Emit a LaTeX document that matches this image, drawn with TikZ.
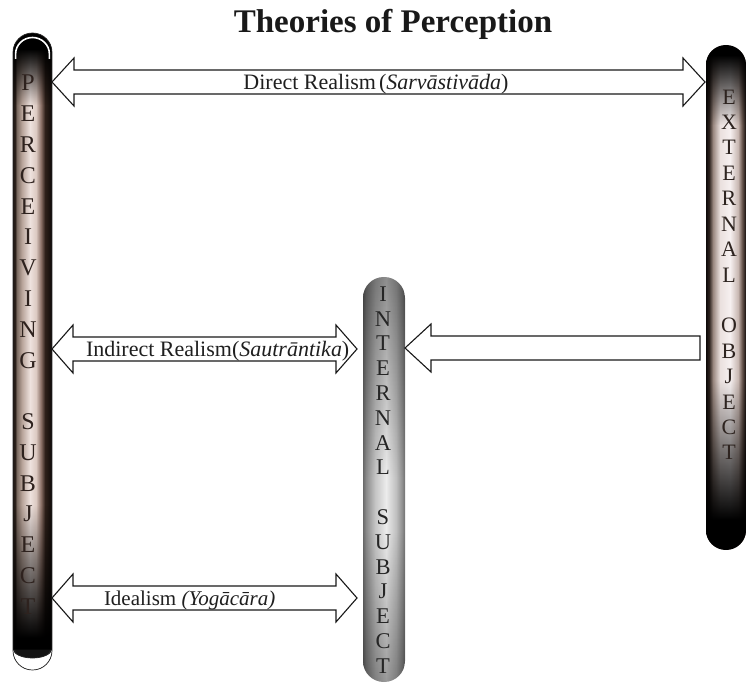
\documentclass[tikz,border=0pt]{standalone}
\usepackage{fontspec}
\setmainfont{Liberation Serif}
\usetikzlibrary{calc,fadings}

% left bar colours
\definecolor{lbA}{HTML}{1E1612}
\definecolor{lbB}{HTML}{2A201A}
\definecolor{lbC}{HTML}{7A6A60}
\definecolor{lbD}{HTML}{B8A49A}
\definecolor{lbE}{HTML}{EEE2DE}
\definecolor{lbF}{HTML}{DCCAC2}
\definecolor{lbG}{HTML}{8A7066}
\definecolor{lbH}{HTML}{2E201A}
\definecolor{lbI}{HTML}{0E0A08}
% right bar colours
\definecolor{rbA}{HTML}{0E0A08}
\definecolor{rbB}{HTML}{2A201C}
\definecolor{rbC}{HTML}{9A8880}
\definecolor{rbD}{HTML}{EAE0DE}
\definecolor{rbE}{HTML}{F6F0F0}
\definecolor{rbF}{HTML}{C8B8B2}
\definecolor{rbG}{HTML}{6A5850}
\definecolor{rbH}{HTML}{120C0A}
% middle bar colours
\definecolor{mbA}{HTML}{6A6A6A}
\definecolor{mbB}{HTML}{8A8A8A}
\definecolor{mbC}{HTML}{C4C4C4}
\definecolor{mbD}{HTML}{ECECEC}
\definecolor{mbE}{HTML}{C0C0C0}
\definecolor{mbF}{HTML}{909090}
\definecolor{mbG}{HTML}{707070}
% letters
\definecolor{psText}{HTML}{2E221E}
\definecolor{eoText}{HTML}{2E2420}
\definecolor{isText}{HTML}{262626}

\pgfdeclarehorizontalshading{lbarsh}{100bp}{color(0bp)=(lbA); color(25bp)=(lbA); color(27.6bp)=(lbB); color(30bp)=(lbC); color(36.5bp)=(lbD); color(46.8bp)=(lbE); color(54.5bp)=(lbF); color(60.9bp)=(lbG); color(66bp)=(lbH); color(75bp)=(lbI); color(100bp)=(lbI)}
\pgfdeclarehorizontalshading{rbarsh}{100bp}{color(0bp)=(rbA); color(25bp)=(rbA); color(28.75bp)=(rbB); color(33.75bp)=(rbC); color(42.5bp)=(rbD); color(55bp)=(rbE); color(65bp)=(rbF); color(70bp)=(rbG); color(75bp)=(rbH); color(100bp)=(rbH)}
\pgfdeclarehorizontalshading{mbarsh}{100bp}{color(0bp)=(mbA); color(25bp)=(mbA); color(28.6bp)=(mbB); color(39.3bp)=(mbC); color(52.4bp)=(mbD); color(64.3bp)=(mbE); color(71.4bp)=(mbF); color(75bp)=(mbG); color(100bp)=(mbG)}

\tikzfading[name=fadeS, top color=transparent!0, bottom color=transparent!100]
\tikzfading[name=fadeN, top color=transparent!100, bottom color=transparent!0]

\def\ahH{24}
\def\ahS{12}
% double arrow: #1 left tip, #2 right tip, #3 head length
\newcommand{\dblarr}[3]{%
  \draw[arrowbox] (#1) -- ($(#1)+(#3,-\ahH)$) -- ($(#1)+(#3,-\ahS)$)
    -- ($(#2)+(-#3,-\ahS)$) -- ($(#2)+(-#3,-\ahH)$) -- (#2)
    -- ($(#2)+(-#3,\ahH)$) -- ($(#2)+(-#3,\ahS)$)
    -- ($(#1)+(#3,\ahS)$) -- ($(#1)+(#3,\ahH)$) -- cycle;}
% single arrow: #1 tip, #2 tail, #3 head length
\newcommand{\sglarr}[3]{%
  \draw[arrowbox] (#1) -- ($(#1)+(#3,-\ahH)$) -- ($(#1)+(#3,-\ahS)$)
    -- ($(#2)+(0,-\ahS)$) -- ($(#2)+(0,\ahS)$)
    -- ($(#1)+(#3,\ahS)$) -- ($(#1)+(#3,\ahH)$) -- cycle;}

\begin{document}
\begin{tikzpicture}[x=1pt,y=-1pt,
  every node/.style={inner sep=0pt, outer sep=0pt},
  barnode/.style={shape=rectangle, shade},
  arrowbox/.style={draw=black!90, fill=white, line width=1.1pt, line join=miter},
  lbl/.style={font=\fontsize{22}{22}\selectfont, text=black!88},
  psletter/.style={font=\fontsize{24}{24}\selectfont, text=psText},
  eoletter/.style={font=\fontsize{22}{22}\selectfont, text=eoText},
  isletter/.style={font=\fontsize{22.5}{22.5}\selectfont, text=isText},
  titlestyle/.style={font=\bfseries\fontsize{33}{33}\selectfont, text=black!90}]

\fill[white] (0,0) rectangle (747,684);
\useasboundingbox (0,0) rectangle (747,684);

% title
\node[titlestyle, anchor=base] (title) at (393,33) {Theories of Perception};

% ---------- left bar: perceiving subject ----------
\node[barnode, shading=lbarsh, minimum width=39pt, minimum height=637pt,
      rounded corners=19.4pt] (ps) at (32.5,351.5) {};
\begin{scope}
  \clip[rounded corners=19.4pt] (ps.north west) rectangle (ps.south east);
  \fill[black] (ps.north west) rectangle ($(ps.north east)+(0,16)$);
  \fill[black, path fading=fadeS] ($(ps.north west)+(0,16)$) rectangle ($(ps.north east)+(0,72)$);
  \fill[black, path fading=fadeN] ($(ps.south west)+(0,-165)$) rectangle ($(ps.south east)+(0,-32)$);
  \fill[black] ($(ps.south west)+(0,-32.5)$) rectangle (ps.south east);
  \fill[white] ($(ps.south west)+(0,-20)$) rectangle (ps.south east);
  \fill[black!92] ($(ps.south west)+(0,-20.5)$) arc[start angle=180, end angle=0, x radius=19.5, y radius=8.5] -- cycle;
  \draw[black!85, line width=0.7pt] ($(ps.south west)+(1.5,-20)$) arc[start angle=180, end angle=0, x radius=18, y radius=8];
  \draw[white, line width=1.6pt] ($(ps.north west)+(2.6,26)$) -- ($(ps.north west)+(2.6,21)$)
     arc[start angle=180, end angle=360, x radius=16.9, y radius=16.5] -- ($(ps.north east)+(-2.6,26)$);
\end{scope}
\draw[black!85, line width=0.7pt, rounded corners=19.4pt] (ps.north west) rectangle (ps.south east);
\foreach \ch [count=\i from 0] in {P,E,R,C,E,I,V,I,N,G}
  \node[psletter] (psa\i) at (28, 83+30.8*\i) {\ch};
\foreach \ch [count=\i from 11] in {S,U,B,J,E,C,T}
  \node[psletter] (psb\i) at (28, 83+30.8*\i) {\ch};

% ---------- right bar: external object ----------
\node[barnode, shading=rbarsh, minimum width=40pt, minimum height=505pt,
      rounded corners=19.9pt] (eo) at (726,297.5) {};
\begin{scope}
  \clip[rounded corners=19.9pt] (eo.north west) rectangle (eo.south east);
  \fill[black] (eo.north west) rectangle ($(eo.north east)+(0,10)$);
  \fill[black, path fading=fadeS] ($(eo.north west)+(0,10)$) rectangle ($(eo.north east)+(0,80)$);
  \fill[black, path fading=fadeN] ($(eo.south west)+(0,-170)$) rectangle ($(eo.south east)+(0,-30)$);
  \fill[black] ($(eo.south west)+(0,-30.5)$) rectangle (eo.south east);
\end{scope}
\foreach \ch [count=\i from 0] in {E,X,T,E,R,N,A,L}
  \node[eoletter] (eoa\i) at (729, 97+25.4*\i) {\ch};
\foreach \ch [count=\i from 9] in {O,B,J,E,C,T}
  \node[eoletter] (eob\i) at (729, 97+25.4*\i) {\ch};

% ---------- middle bar: internal subject ----------
\node[barnode, shading=mbarsh, minimum width=42pt, minimum height=405pt,
      rounded corners=20.9pt] (is) at (384,479.5) {};
\begin{scope}
  \clip[rounded corners=20.9pt] (is.north west) rectangle (is.south east);
  \fill[black, fill opacity=0.4, path fading=fadeS] (is.north west) rectangle ($(is.north east)+(0,200)$);
  \fill[black, fill opacity=0.35, path fading=fadeN] ($(is.south west)+(0,-150)$) rectangle (is.south east);
\end{scope}
\foreach \ch [count=\i from 0] in {I,N,T,E,R,N,A,L}
  \node[isletter] (isa\i) at (383, 294+24.8*\i) {\ch};
\foreach \ch [count=\i from 9] in {S,U,B,J,E,C,T}
  \node[isletter] (isb\i) at (383, 294+24.8*\i) {\ch};

% ---------- arrows ----------
\coordinate (dr1) at (ps.east |- 0,82);
\coordinate (dr2) at ($(eo.west |- 0,82)+(-1,0)$);
\dblarr{dr1}{dr2}{22}
\node[lbl, anchor=base] (drt) at (376,89.5) {Direct Realism\hspace{3pt}(\textit{Sarvāstivāda})};

\coordinate (ir1) at (ps.east |- 0,349);
\coordinate (ir2) at ($(is.west |- 0,349)+(-6,0)$);
\dblarr{ir1}{ir2}{21}
\node[lbl, anchor=base west] (irt) at (86,356.5) {Indirect Realism(\textit{Sautrāntika})};

\coordinate (ar1) at (is.east |- 0,348);
\coordinate (ar2) at ($(eo.west |- 0,348)+(-6,0)$);
\sglarr{ar1}{ar2}{26}

\coordinate (id1) at (ps.east |- 0,598);
\coordinate (id2) at ($(is.west |- 0,598)+(-6,0)$);
\dblarr{id1}{id2}{21}
\node[lbl, anchor=base west, font=\fontsize{21}{21}\selectfont] (idt) at (104,605.5) {Idealism \textit{(Yogācāra)}};

\end{tikzpicture}
\end{document}
